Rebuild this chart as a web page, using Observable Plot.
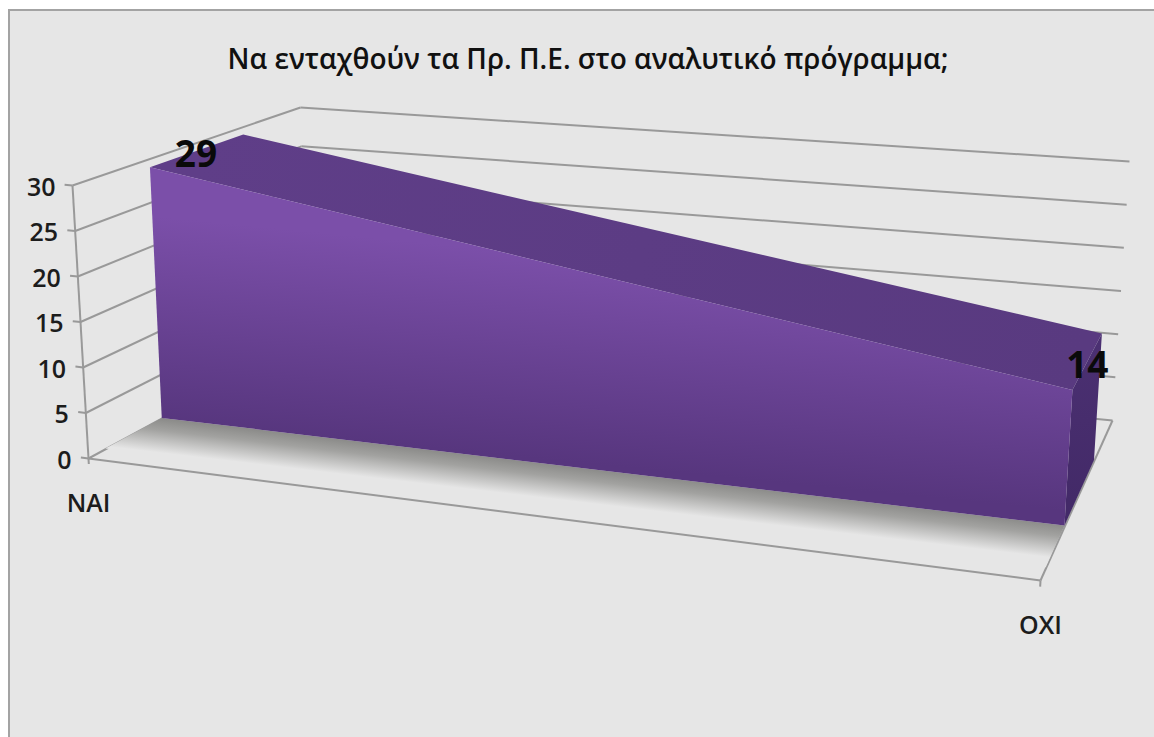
<!DOCTYPE html>
<html>
<head>
<meta charset="utf-8">
<script src="https://cdn.jsdelivr.net/npm/d3@7"></script>
<script src="https://cdn.jsdelivr.net/npm/@observablehq/plot@0.6"></script>
<style>
  html, body { margin: 0; padding: 0; background: #fff; overflow: hidden; }
  #frame { position: absolute; left: 8px; top: 9px; width: 1146px; height: 728px; background: #e6e6e6;
           box-shadow: inset 2px 2px 0 #a3a3a3; }
  #title { position: absolute; left: 0; width: 1160px; top: 31px; text-align: center; margin: 0;
           font: 600 28px/36px "Open Sans", sans-serif; color: #111; white-space: nowrap; }
  #chart { position: absolute; left: 0; top: 81px; }
  #chart svg { display: block; }
</style>
</head>
<body>
<div id="frame">
  <h1 id="title">Να ενταχθούν τα Πρ. Π.Ε. στο αναλυτικό πρόγραμμα;</h1>
  <div id="chart"></div>
</div>
<script>
const titleText = "Να ενταχθούν τα Πρ. Π.Ε. στο αναλυτικό πρόγραμμα;";
const categories = ["ΝΑΙ", "ΟΧΙ"];
const values = [29, 14];
const yTicks = [0, 5, 10, 15, 20, 25, 30];
const yMax = 30;

// Perspective view of the 3-D box: where each box corner falls on the page.
// Key: [category end, top of the value axis, back of the depth axis]
const view = {
  "000": [88, 458],  "100": [1040, 580], "010": [72, 185],  "110": [1057, 273],
  "001": [305, 340], "101": [1112, 420], "011": [300, 107], "111": [1129, 161]
};
const depthFront = 0.34, depthBack = 0.75, depthShadow = 0.08, depthLabel = 0.54;

function project(t, v, d) {
  const h = v / yMax, out = [0, 0];
  for (const a of [0, 1]) for (const b of [0, 1]) for (const c of [0, 1]) {
    const w = (a ? t : 1 - t) * (b ? h : 1 - h) * (c ? d : 1 - d);
    const p = view[`${a}${b}${c}`];
    out[0] += w * p[0];
    out[1] += w * p[1];
  }
  return out;
}

const tOf = i => i / (categories.length - 1);
const rows = categories.map((name, i) => ({ name, value: values[i], t: tOf(i) }));
const last = rows[rows.length - 1];
const px = f => d => f(d)[0];
const py = f => d => f(d)[1];

// faces of the solid and helpers for area marks spanning two projected edges
function face(data, a, b, options) {
  return Plot.area(data, {
    x1: px(a), y1: py(a), x2: px(b), y2: py(b), curve: "linear", ...options
  });
}
const seg = (data, a, b, options) => Plot.link(data, {
  x1: px(a), y1: py(a), x2: px(b), y2: py(b), stroke: "#999999", strokeWidth: 2, ...options
});

const defs = (index, { x, y }) => {
  const root = d3.create("svg:defs");
  const grad = (id, p1, p2, stops) => {
    const g = root.append("linearGradient").attr("id", id).attr("gradientUnits", "userSpaceOnUse")
      .attr("x1", x(p1[0])).attr("y1", y(p1[1])).attr("x2", x(p2[0])).attr("y2", y(p2[1]));
    for (const [o, col, op] of stops) g.append("stop").attr("offset", o).attr("stop-color", col).attr("stop-opacity", op ?? 1);
  };
  grad("frontFill", [600, 260], [580, 463], [[0, "#7b4fa9"], [1, "#57367e"]]);
  grad("shadowFill", [600, 470], [596, 504], [[0, "#8b8b89"], [0.35, "#a2a2a0"], [1, "#e6e6e6"]]);
  grad("endFill", [1090, 340], [1080, 500], [[0, "#4b3072"], [1, "#432a68"]]);
  grad("topFill", [200, 150], [1080, 360], [[0, "#5f3e88"], [1, "#593a80"]]);
  return root.node();
};

const chart = Plot.plot({
  width: 1146,
  height: 647,
  margin: 0,
  style: { background: "transparent", overflow: "visible" },
  x: { domain: [8, 1154], range: [0, 1146], axis: null },
  y: { domain: [90, 737], range: [0, 647], axis: null },
  marks: [
    defs,
    // value gridlines on the side and back walls
    seg(yTicks, v => project(0, v, 0), v => project(0, v, 1)),
    seg(yTicks.filter(v => v > 0), v => project(0, v, 1), v => project(1, v, 1)),
    // value axis and its ticks
    seg([yMax], () => project(0, 0, 0), () => project(0, yMax, 0)),
    seg(yTicks, v => project(-0.008, v, 0), v => project(0, v, 0)),
    // floor outline and category ticks
    seg([0], () => project(0, 0, 0), () => project(1, 0, 0)),
    seg([0], () => project(1, 0, 0), () => project(1, 0, 1)),
    seg([0], () => project(0, 0, 1), () => project(1, 0, 1)),
    seg(rows, r => project(r.t, -0.6, 0), r => project(r.t, 0, 0)),
    // shadow on the floor
    face(rows, r => project(r.t, 0, depthFront), r => project(r.t, 0, depthShadow), { fill: "url(#shadowFill)" }),
    // solid area: top, end and front faces
    face(rows, r => project(r.t, r.value, depthFront), r => project(r.t, r.value, depthBack), { fill: "url(#topFill)" }),
    face([last.value, 0], v => project(1, v, depthFront), v => project(1, v, depthBack), { fill: "url(#endFill)" }),
    face(rows, r => project(r.t, r.value, depthFront), r => project(r.t, 0, depthFront), { fill: "url(#frontFill)" }),
    // text
    Plot.text(yTicks, {
      x: px(v => project(0, v, 0)), y: py(v => project(0, v, 0)), text: v => String(v),
      textAnchor: "end", dx: -17, dy: 2, fontSize: 25, fontWeight: 600, fill: "#1c1c1c", fontFamily: "Open Sans"
    }),
    Plot.text(rows, {
      x: px(r => project(r.t, 0, 0)), y: py(r => project(r.t, 0, 0)), text: "name",
      dy: 45, fontSize: 25, fontWeight: 600, fill: "#1c1c1c", fontFamily: "Open Sans"
    }),
    Plot.text(rows, {
      x: px(r => project(r.t, r.value, depthLabel)), y: py(r => project(r.t, r.value, depthLabel)),
      text: r => String(r.value), dy: 3, fontSize: 37, fontWeight: 700, fill: "#0a0a0a", fontFamily: "Open Sans"
    })
  ]
});
document.getElementById("chart").appendChild(chart);
</script>
</body>
</html>
